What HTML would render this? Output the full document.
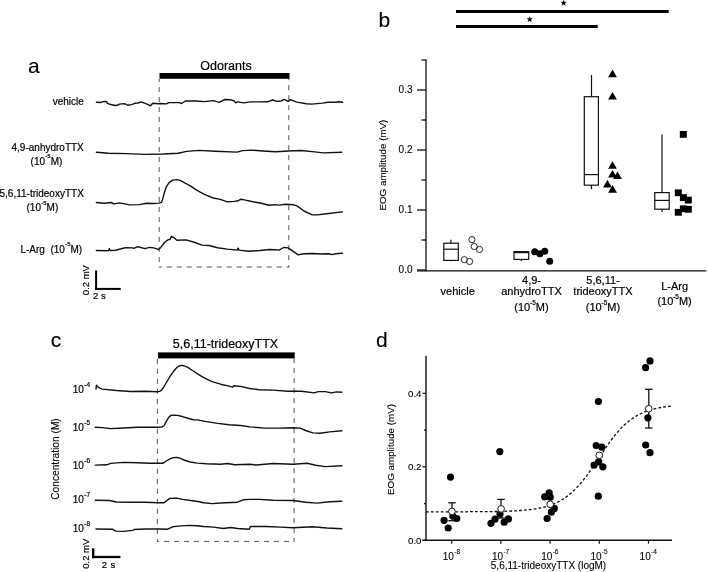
<!DOCTYPE html>
<html><head><meta charset="utf-8"><style>
html,body{margin:0;padding:0;background:#fff;}
svg{display:block;will-change:transform;}
text{font-family:"Liberation Sans", sans-serif;fill:#000;stroke:#000;stroke-width:0.2px;}
text.L{stroke-width:0.12px;}
text.d{stroke-width:0.1px;}
</style></head><body>
<svg width="708" height="572" viewBox="0 0 708 572">
<text x="28" y="73" font-size="21" text-anchor="start" class="L">a</text>
<text x="226" y="69.5" font-size="12.5" text-anchor="middle" >Odorants</text>
<rect x="159.5" y="73" width="130" height="5.8" fill="#000"/>
<line x1="159.2" y1="78.8" x2="159.2" y2="267.5" stroke="#555" stroke-width="1" stroke-dasharray="5,5" stroke-dashoffset="1.8"/>
<line x1="288.8" y1="78.8" x2="288.8" y2="267.5" stroke="#555" stroke-width="1" stroke-dasharray="5,5" stroke-dashoffset="3.6"/>
<line x1="159.2" y1="267" x2="288.8" y2="267" stroke="#555" stroke-width="1" stroke-dasharray="5,5" stroke-dashoffset="2.4"/>
<text x="83.8" y="104.5" font-size="10" text-anchor="end" >vehicle</text>
<text x="83.8" y="150.8" font-size="10" text-anchor="end" >4,9-anhydroTTX</text>
<text x="46.5" y="164.6" font-size="10" text-anchor="middle" >(10<tspan font-size="6" dy="-6.3" dx="0.3">-5</tspan><tspan dy="6.3">M)</tspan></text>
<text x="83.8" y="197.3" font-size="10" text-anchor="end" >5,6,11-trideoxyTTX</text>
<text x="42.4" y="211" font-size="10" text-anchor="middle" >(10<tspan font-size="6" dy="-6.3" dx="0.3">-5</tspan><tspan dy="6.3">M)</tspan></text>
<text x="82.2" y="252.7" font-size="10" text-anchor="end" >L-Arg&#160;&#160;(10<tspan font-size="6" dy="-6.3" dx="0.3">-5</tspan><tspan dy="6.3">M)</tspan></text>
<polyline points="96.4,102.3 100.5,102.5 104.2,101.4 106.5,101.5 107.4,103.2 109.7,104.3 115.2,105.5 117.5,105.3 119.3,104.1 124.4,103.6 127.6,105.2 131.7,104.6 135.4,103.2 138.0,103.0 140.9,101.8 144.6,103.2 148.2,104.6 150.5,105.8 152.8,103.2 158.6,103.7 160.0,103.5 166.4,103.9 168.9,102.6 179.0,102.6 181.6,103.5 185.4,101.0 195.6,101.0 204.5,101.6 213.4,100.6 219.1,102.3 224.8,99.5 229.9,99.7 234.3,101.0 235.6,102.9 237.5,101.9 243.9,102.9 250.0,101.9 260.0,101.9 267.4,101.8 272.8,100.0 276.8,101.4 280.9,101.0 284.2,99.4 288.3,101.4 290.3,99.6 297.0,102.1 306.4,103.7 311.7,104.1 322.5,103.1 327.9,102.3 335.9,102.3 338.6,101.7 342.6,102.3" fill="none" stroke="#111" stroke-width="1.4" stroke-linejoin="round" stroke-linecap="round"/>
<polyline points="96.4,152.3 108.4,153.3 126.7,153.6 145.1,154.4 163.4,154.0 178.1,153.2 186.7,151.4 199.6,150.4 215.0,151.3 237.0,152.1 242.5,150.6 251.7,150.1 262.7,151.0 275.6,151.8 288.4,151.0 301.3,150.5 312.3,151.6 323.3,152.9 341.7,152.3" fill="none" stroke="#111" stroke-width="1.4" stroke-linejoin="round" stroke-linecap="round"/>
<polyline points="96.4,202.5 104.1,203.2 111.2,202.5 114.0,203.9 119.7,202.9 129.5,204.9 139.4,204.6 146.5,203.2 153.6,203.5 159.2,203.1 161.4,202.4 162.8,198.8 164.2,193.2 166.3,186.8 169.1,182.6 172.7,180.1 176.9,179.6 179.7,180.1 184.7,182.9 190.3,185.8 196.0,189.7 200.2,192.1 205.0,194.7 213.2,198.0 220.3,199.4 227.4,201.8 234.4,201.4 238.0,200.8 240.8,199.2 244.3,199.9 252.8,201.8 261.3,203.2 269.0,205.3 275.4,204.6 279.0,205.1 285.8,204.2 293.7,204.8 297.1,205.9 303.9,211.0 311.8,214.7 317.5,214.9 326.5,213.8 342.3,211.9" fill="none" stroke="#111" stroke-width="1.4" stroke-linejoin="round" stroke-linecap="round"/>
<polyline points="96.4,250.5 108.4,250.8 109.4,248.6 110.0,250.5 115.4,250.2 125.3,247.7 132.4,247.9 133.8,248.4 138.0,246.7 145.1,248.6 149.3,247.4 153.6,247.9 158.5,249.5 160.6,247.7 164.9,242.0 168.4,239.6 169.8,239.6 171.5,236.4 173.3,237.3 176.9,240.2 186.0,239.9 193.5,242.0 202.0,245.1 209.0,245.5 217.5,247.7 227.4,249.1 237.3,250.1 238.1,248.1 239.0,250.1 248.6,251.2 259.9,250.5 269.7,249.5 274.5,249.8 279.0,250.1 283.6,247.5 288.1,247.9 292.6,250.9 298.2,254.9 303.9,253.7 312.9,253.5 320.8,254.0 328.8,253.7 332.1,254.6 335.5,253.7 342.3,253.2" fill="none" stroke="#111" stroke-width="1.4" stroke-linejoin="round" stroke-linecap="round"/>
<line x1="96.1" y1="270.5" x2="96.1" y2="289.9" stroke="#000" stroke-width="2" />
<line x1="95.1" y1="288.9" x2="120.8" y2="288.9" stroke="#000" stroke-width="2" />
<text transform="translate(89.2,280.1) rotate(-90)" font-size="9.5" text-anchor="middle">0.2 mV</text>
<text x="93" y="298.5" font-size="9.5" text-anchor="start" >2 s</text>
<text x="378.5" y="27" font-size="21" text-anchor="start" class="L">b</text>
<rect x="456" y="10" width="212.7" height="3" fill="#000"/>
<rect x="456" y="25" width="141.7" height="3" fill="#000"/>
<polygon points="563.60,0.40 564.33,2.09 566.17,2.27 564.79,3.49 565.19,5.28 563.60,4.35 562.01,5.28 562.41,3.49 561.03,2.27 562.87,2.09" fill="#000" stroke="#000" stroke-width="0.4" stroke-linejoin="round"/>
<polygon points="529.70,16.70 530.43,18.39 532.27,18.57 530.89,19.79 531.29,21.58 529.70,20.65 528.11,21.58 528.51,19.79 527.13,18.57 528.97,18.39" fill="#000" stroke="#000" stroke-width="0.4" stroke-linejoin="round"/>
<line x1="426" y1="59.6" x2="426" y2="271.2" stroke="#111" stroke-width="1.3" />
<line x1="417" y1="270.9" x2="706.4" y2="270.9" stroke="#111" stroke-width="1.4" />
<line x1="417" y1="90" x2="426" y2="90" stroke="#111" stroke-width="1.3" />
<text x="412.5" y="93.3" font-size="10" text-anchor="end" class="d">0.3</text>
<line x1="417" y1="150" x2="426" y2="150" stroke="#111" stroke-width="1.3" />
<text x="412.5" y="153.3" font-size="10" text-anchor="end" class="d">0.2</text>
<line x1="417" y1="210" x2="426" y2="210" stroke="#111" stroke-width="1.3" />
<text x="412.5" y="213.3" font-size="10" text-anchor="end" class="d">0.1</text>
<line x1="417" y1="270" x2="426" y2="270" stroke="#111" stroke-width="1.3" />
<text x="412.5" y="273.3" font-size="10" text-anchor="end" class="d">0.0</text>
<line x1="421.5" y1="60" x2="426" y2="60" stroke="#111" stroke-width="1.3" />
<line x1="421.5" y1="120" x2="426" y2="120" stroke="#111" stroke-width="1.3" />
<line x1="421.5" y1="180" x2="426" y2="180" stroke="#111" stroke-width="1.3" />
<line x1="421.5" y1="240" x2="426" y2="240" stroke="#111" stroke-width="1.3" />
<text transform="translate(385.6,165.1) rotate(-90)" font-size="9.8" text-anchor="middle" class="d">EOG amplitude (mV)</text>
<rect x="443.8" y="243.2" width="14.5" height="17.19999999999999" fill="none" stroke="#111" stroke-width="1.2"/>
<line x1="443.8" y1="249.2" x2="458.3" y2="249.2" stroke="#111" stroke-width="1.2" />
<line x1="450.9" y1="239.8" x2="450.9" y2="243.2" stroke="#111" stroke-width="1.2" />
<line x1="450.9" y1="260.4" x2="450.9" y2="261.2" stroke="#111" stroke-width="1.2" />
<rect x="514" y="251.6" width="14.700000000000045" height="7.799999999999983" fill="none" stroke="#111" stroke-width="1.2"/>
<line x1="514" y1="252.6" x2="528.7" y2="252.6" stroke="#111" stroke-width="1.2" />
<line x1="521.3" y1="251.6" x2="521.3" y2="251.6" stroke="#111" stroke-width="1.2" />
<line x1="521.3" y1="259.4" x2="521.3" y2="261.2" stroke="#111" stroke-width="1.2" />
<rect x="584.3" y="96.7" width="14.100000000000023" height="88.49999999999999" fill="none" stroke="#111" stroke-width="1.2"/>
<line x1="584.3" y1="174.6" x2="598.4" y2="174.6" stroke="#111" stroke-width="1.2" />
<line x1="591.5" y1="75" x2="591.5" y2="96.7" stroke="#111" stroke-width="1.2" />
<line x1="591.5" y1="185.2" x2="591.5" y2="189.2" stroke="#111" stroke-width="1.2" />
<rect x="654.8" y="192.6" width="14.400000000000091" height="16.599999999999994" fill="none" stroke="#111" stroke-width="1.2"/>
<line x1="654.8" y1="200.4" x2="669.2" y2="200.4" stroke="#111" stroke-width="1.2" />
<line x1="662" y1="134.5" x2="662" y2="192.6" stroke="#111" stroke-width="1.2" />
<line x1="662" y1="209.2" x2="662" y2="212" stroke="#111" stroke-width="1.2" />
<circle cx="471.9" cy="239.6" r="3.1" fill="none" stroke="#111" stroke-width="0.9"/>
<circle cx="474.2" cy="246.5" r="3.1" fill="none" stroke="#111" stroke-width="0.9"/>
<circle cx="479.5" cy="249.5" r="3.1" fill="none" stroke="#111" stroke-width="0.9"/>
<circle cx="464.3" cy="259.7" r="3.1" fill="none" stroke="#111" stroke-width="0.9"/>
<circle cx="469.6" cy="261.5" r="3.1" fill="none" stroke="#111" stroke-width="0.9"/>
<circle cx="534.7" cy="251.7" r="3.5" fill="#000"/>
<circle cx="539.9" cy="253.8" r="3.5" fill="#000"/>
<circle cx="544.7" cy="251.3" r="3.5" fill="#000"/>
<circle cx="549.7" cy="261.2" r="3.5" fill="#000"/>
<polygon points="612.5,69.6 616.9,77.19999999999999 608.1,77.19999999999999" fill="#000"/>
<polygon points="612.5,91.9 616.9,99.5 608.1,99.5" fill="#000"/>
<polygon points="612.5,161.2 616.9,168.79999999999998 608.1,168.79999999999998" fill="#000"/>
<polygon points="612.5,170 616.9,177.6 608.1,177.6" fill="#000"/>
<polygon points="617.5,171.4 621.9,179.0 613.1,179.0" fill="#000"/>
<polygon points="607.5,179.8 611.9,187.4 603.1,187.4" fill="#000"/>
<polygon points="612.6,185.1 617.0,192.7 608.2,192.7" fill="#000"/>
<rect x="679.8" y="131.0" width="7" height="6.8" fill="#000"/>
<rect x="674.8" y="189.4" width="7" height="6.8" fill="#000"/>
<rect x="679.9" y="194.2" width="7" height="6.8" fill="#000"/>
<rect x="684.8" y="196.7" width="7" height="6.8" fill="#000"/>
<rect x="679.9" y="205.4" width="7" height="6.8" fill="#000"/>
<rect x="684.8" y="205.9" width="7" height="6.8" fill="#000"/>
<rect x="674.8" y="208.9" width="7" height="6.8" fill="#000"/>
<text x="457.7" y="295.4" font-size="11" text-anchor="middle" >vehicle</text>
<text x="531.5" y="284" font-size="11" text-anchor="middle" >4,9-</text>
<text x="531.5" y="295.3" font-size="11" text-anchor="middle" >anhydroTTX</text>
<text x="531.5" y="311.4" font-size="11" text-anchor="middle" >(10<tspan font-size="6.5" dy="-6.2" dx="-0.2">-5</tspan><tspan dy="6.2">M)</tspan></text>
<text x="603" y="283.9" font-size="11" text-anchor="middle" >5,6,11-</text>
<text x="603" y="295.2" font-size="11" text-anchor="middle" >trideoxyTTX</text>
<text x="603" y="311.4" font-size="11" text-anchor="middle" >(10<tspan font-size="6.5" dy="-6.2" dx="-0.2">-5</tspan><tspan dy="6.2">M)</tspan></text>
<text x="674.6" y="289.9" font-size="11" text-anchor="middle" >L-Arg</text>
<text x="674.6" y="304.8" font-size="11" text-anchor="middle" >(10<tspan font-size="6.5" dy="-6.2" dx="-0.2">-5</tspan><tspan dy="6.2">M)</tspan></text>
<text x="50.8" y="347.3" font-size="21" text-anchor="start" class="L">c</text>
<text x="225.5" y="348.1" font-size="12.5" text-anchor="middle" >5,6,11-trideoxyTTX</text>
<rect x="158" y="352.4" width="136.7" height="6" fill="#000"/>
<line x1="157.4" y1="358.4" x2="157.4" y2="541.9" stroke="#555" stroke-width="1" stroke-dasharray="5,5" stroke-dashoffset="9.5"/>
<line x1="294.1" y1="358.4" x2="294.1" y2="541.9" stroke="#555" stroke-width="1" stroke-dasharray="5,5" stroke-dashoffset="0.3"/>
<line x1="157.4" y1="541.4" x2="294.1" y2="541.4" stroke="#555" stroke-width="1" stroke-dasharray="5,5" stroke-dashoffset="3.4"/>
<text x="72.8" y="392.9" font-size="10">10<tspan font-size="6.5" dy="-6.1" dx="0.4">-4</tspan></text>
<text x="72.8" y="431.1" font-size="10">10<tspan font-size="6.5" dy="-6.1" dx="0.4">-5</tspan></text>
<text x="72.8" y="468.6" font-size="10">10<tspan font-size="6.5" dy="-6.1" dx="0.4">-6</tspan></text>
<text x="72.8" y="503.4" font-size="10">10<tspan font-size="6.5" dy="-6.1" dx="0.4">-7</tspan></text>
<text x="72.8" y="531.8" font-size="10">10<tspan font-size="6.5" dy="-6.1" dx="0.4">-8</tspan></text>
<text transform="translate(59,459) rotate(-90)" font-size="10.2" text-anchor="middle" class="d">Concentration (M)</text>
<polyline points="96.0,389.1 96.4,385.3 98.8,387.7 102.4,389.1 116.5,390.5 130.6,391.5 144.7,391.2 157.1,391.7 159.5,391.4 161.3,390.3 163.5,387.5 166.1,383.0 168.5,379.0 170.8,375.2 173.2,371.8 175.5,369.0 177.5,367.0 179.3,365.9 181.3,365.4 183.2,365.6 185.5,366.3 187.9,367.4 192.4,370.5 198.0,374.1 203.7,377.6 212.1,381.6 220.6,384.2 229.1,386.1 232.6,387.2 233.6,385.8 240.4,386.4 250.0,388.5 259.1,389.8 273.2,390.1 287.4,391.2 301.5,391.2 314.2,392.9 318.4,391.6 325.5,391.6 331.2,392.9 336.8,391.9 341.8,392.3" fill="none" stroke="#111" stroke-width="1.4" stroke-linejoin="round" stroke-linecap="round"/>
<polyline points="95.3,427.3 102.4,427.6 110.8,428.6 123.6,428.0 137.7,427.3 157.5,427.2 161.7,427.1 163.8,426.0 166.3,421.4 168.8,417.2 170.9,415.4 174.1,415.1 177.6,415.4 183.2,416.8 188.9,418.5 193.5,419.7 197.4,419.9 205.0,421.4 217.8,423.4 229.1,424.8 240.4,425.5 250.0,426.9 264.8,428.1 280.3,428.1 293.0,427.7 300.1,428.1 305.7,430.5 312.8,432.9 319.9,433.3 329.7,431.9 341.8,430.8" fill="none" stroke="#111" stroke-width="1.4" stroke-linejoin="round" stroke-linecap="round"/>
<polyline points="95.3,465.1 106.6,464.8 110.8,463.4 123.6,462.4 137.7,462.7 150.0,463.3 162.8,463.3 166.3,461.0 170.5,458.6 173.5,457.7 176.2,457.4 178.5,457.7 180.4,458.3 185.4,460.5 190.3,462.0 197.4,463.1 206.5,463.8 220.6,464.2 227.7,463.5 234.7,464.7 250.0,464.2 256.3,465.0 273.2,463.5 293.0,464.2 307.1,463.3 315.6,465.2 325.5,466.6 341.8,465.7" fill="none" stroke="#111" stroke-width="1.4" stroke-linejoin="round" stroke-linecap="round"/>
<polyline points="95.3,500.3 109.4,500.5 116.5,502.0 130.6,502.2 144.7,502.2 158.5,502.7 164.1,502.7 169.8,498.4 176.8,498.1 182.5,499.4 192.4,500.8 199.4,501.7 203.7,502.7 212.1,503.6 224.9,502.7 237.6,502.2 243.2,499.8 250.0,499.4 259.1,499.4 273.2,500.3 293.0,500.5 305.7,502.2 317.0,503.1 329.7,501.7 341.8,501.2" fill="none" stroke="#111" stroke-width="1.4" stroke-linejoin="round" stroke-linecap="round"/>
<polyline points="96.0,529.0 112.3,529.2 115.8,531.1 123.6,531.4 132.7,530.4 134.2,529.5 144.7,529.0 158.9,529.0 167.7,529.2 172.6,526.8 178.2,526.1 189.5,525.4 196.6,525.7 203.7,526.5 213.6,527.1 223.4,528.5 230.5,527.5 237.6,528.5 249.2,529.2 250.4,526.5 266.2,526.5 280.3,527.1 293.0,527.8 312.8,526.8 326.9,528.0 341.8,528.7" fill="none" stroke="#111" stroke-width="1.4" stroke-linejoin="round" stroke-linecap="round"/>
<line x1="93.2" y1="548.3" x2="93.2" y2="558.2" stroke="#000" stroke-width="2.4" />
<line x1="92" y1="557" x2="120.4" y2="557" stroke="#000" stroke-width="2.3" />
<text transform="translate(89.2,553.7) rotate(-90)" font-size="9.5" text-anchor="middle">0.2 mV</text>
<text x="101.7" y="568.1" font-size="9.5" text-anchor="start" word-spacing="1">2 s</text>
<text x="376" y="347.3" font-size="21" text-anchor="start" class="L">d</text>
<line x1="426" y1="355.8" x2="426" y2="541" stroke="#111" stroke-width="1.4" />
<line x1="422.5" y1="540.3" x2="672" y2="540.3" stroke="#111" stroke-width="1.4" />
<line x1="422.5" y1="393.29999999999995" x2="426" y2="393.29999999999995" stroke="#111" stroke-width="1.2" />
<text x="421.5" y="396.59999999999997" font-size="9.7" text-anchor="end" class="d">0.4</text>
<line x1="422.5" y1="466.79999999999995" x2="426" y2="466.79999999999995" stroke="#111" stroke-width="1.2" />
<text x="421.5" y="470.09999999999997" font-size="9.7" text-anchor="end" class="d">0.2</text>
<line x1="422.5" y1="540.3" x2="426" y2="540.3" stroke="#111" stroke-width="1.2" />
<text x="421.5" y="543.5999999999999" font-size="9.7" text-anchor="end" class="d">0.0</text>
<line x1="424" y1="503.54999999999995" x2="426" y2="503.54999999999995" stroke="#111" stroke-width="1.2" />
<line x1="424" y1="430.04999999999995" x2="426" y2="430.04999999999995" stroke="#111" stroke-width="1.2" />
<line x1="451.7" y1="540.3" x2="451.7" y2="543.7" stroke="#111" stroke-width="1.2" />
<text x="442.8" y="559.8" font-size="10" class="d">10<tspan font-size="6.5" dy="-5.6" dx="0.3">-8</tspan></text>
<line x1="500.9" y1="540.3" x2="500.9" y2="543.7" stroke="#111" stroke-width="1.2" />
<text x="492.0" y="559.8" font-size="10" class="d">10<tspan font-size="6.5" dy="-5.6" dx="0.3">-7</tspan></text>
<line x1="550.1" y1="540.3" x2="550.1" y2="543.7" stroke="#111" stroke-width="1.2" />
<text x="541.2" y="559.8" font-size="10" class="d">10<tspan font-size="6.5" dy="-5.6" dx="0.3">-6</tspan></text>
<line x1="599.3" y1="540.3" x2="599.3" y2="543.7" stroke="#111" stroke-width="1.2" />
<text x="590.4" y="559.8" font-size="10" class="d">10<tspan font-size="6.5" dy="-5.6" dx="0.3">-5</tspan></text>
<line x1="648.5" y1="540.3" x2="648.5" y2="543.7" stroke="#111" stroke-width="1.2" />
<text x="639.6" y="559.8" font-size="10" class="d">10<tspan font-size="6.5" dy="-5.6" dx="0.3">-4</tspan></text>
<text x="548.5" y="569.2" font-size="10" text-anchor="middle" class="d">5,6,11-trideoxyTTX (logM)</text>
<text transform="translate(394.2,449.5) rotate(-90)" font-size="9.8" text-anchor="middle" class="d">EOG amplitude (mV)</text>
<polyline points="426.0,511.8 427.0,511.8 428.0,511.8 429.0,511.8 430.0,511.8 431.0,511.8 432.0,511.8 433.0,511.8 434.0,511.8 435.0,511.8 436.0,511.8 437.0,511.8 438.0,511.8 439.0,511.8 440.0,511.8 441.0,511.8 442.0,511.8 443.0,511.8 444.0,511.8 445.0,511.8 446.0,511.8 447.0,511.8 448.0,511.8 449.0,511.8 450.0,511.8 451.0,511.8 452.0,511.8 453.0,511.8 454.0,511.8 455.0,511.8 456.0,511.8 457.0,511.8 458.0,511.8 459.0,511.8 460.0,511.8 461.0,511.8 462.0,511.8 463.0,511.8 464.0,511.8 465.0,511.8 466.0,511.8 467.0,511.8 468.0,511.7 469.0,511.7 470.0,511.7 471.0,511.7 472.0,511.7 473.0,511.7 474.0,511.7 475.0,511.7 476.0,511.7 477.0,511.7 478.0,511.7 479.0,511.7 480.0,511.7 481.0,511.7 482.0,511.7 483.0,511.7 484.0,511.6 485.0,511.6 486.0,511.6 487.0,511.6 488.0,511.6 489.0,511.6 490.0,511.6 491.0,511.6 492.0,511.6 493.0,511.5 494.0,511.5 495.0,511.5 496.0,511.5 497.0,511.5 498.0,511.4 499.0,511.4 500.0,511.4 501.0,511.4 502.0,511.4 503.0,511.3 504.0,511.3 505.0,511.3 506.0,511.2 507.0,511.2 508.0,511.2 509.0,511.1 510.0,511.1 511.0,511.0 512.0,511.0 513.0,511.0 514.0,510.9 515.0,510.9 516.0,510.8 517.0,510.7 518.0,510.7 519.0,510.6 520.0,510.5 521.0,510.5 522.0,510.4 523.0,510.3 524.0,510.2 525.0,510.1 526.0,510.0 527.0,509.9 528.0,509.8 529.0,509.7 530.0,509.6 531.0,509.5 532.0,509.4 533.0,509.2 534.0,509.1 535.0,508.9 536.0,508.8 537.0,508.6 538.0,508.4 539.0,508.2 540.0,508.0 541.0,507.8 542.0,507.6 543.0,507.3 544.0,507.1 545.0,506.8 546.0,506.6 547.0,506.3 548.0,506.0 549.0,505.6 550.0,505.3 551.0,505.0 552.0,504.6 553.0,504.2 554.0,503.8 555.0,503.4 556.0,502.9 557.0,502.4 558.0,502.0 559.0,501.4 560.0,500.9 561.0,500.3 562.0,499.7 563.0,499.1 564.0,498.5 565.0,497.8 566.0,497.1 567.0,496.4 568.0,495.6 569.0,494.8 570.0,494.0 571.0,493.2 572.0,492.3 573.0,491.4 574.0,490.4 575.0,489.5 576.0,488.5 577.0,487.4 578.0,486.3 579.0,485.2 580.0,484.1 581.0,482.9 582.0,481.7 583.0,480.5 584.0,479.2 585.0,477.9 586.0,476.6 587.0,475.3 588.0,473.9 589.0,472.5 590.0,471.1 591.0,469.7 592.0,468.2 593.0,466.8 594.0,465.3 595.0,463.8 596.0,462.3 597.0,460.8 598.0,459.3 599.0,457.8 600.0,456.3 601.0,454.8 602.0,453.3 603.0,451.8 604.0,450.3 605.0,448.8 606.0,447.4 607.0,445.9 608.0,444.5 609.0,443.1 610.0,441.7 611.0,440.4 612.0,439.0 613.0,437.7 614.0,436.4 615.0,435.2 616.0,434.0 617.0,432.8 618.0,431.6 619.0,430.5 620.0,429.4 621.0,428.3 622.0,427.3 623.0,426.3 624.0,425.3 625.0,424.4 626.0,423.5 627.0,422.6 628.0,421.8 629.0,421.0 630.0,420.2 631.0,419.5 632.0,418.8 633.0,418.1 634.0,417.4 635.0,416.8 636.0,416.2 637.0,415.6 638.0,415.0 639.0,414.5 640.0,414.0 641.0,413.5 642.0,413.1 643.0,412.6 644.0,412.2 645.0,411.8 646.0,411.4 647.0,411.1 648.0,410.7 649.0,410.4 650.0,410.1 651.0,409.8 652.0,409.5 653.0,409.2 654.0,409.0 655.0,408.7 656.0,408.5 657.0,408.3 658.0,408.1 659.0,407.9 660.0,407.7 661.0,407.5 662.0,407.3 663.0,407.2 664.0,407.0 665.0,406.9 666.0,406.7 667.0,406.6 668.0,406.5 669.0,406.4 670.0,406.3 671.0,406.2 672.0,406.1" fill="none" stroke="#111" stroke-width="1.3" stroke-dasharray="2.8,2.1"/>
<line x1="452" y1="502.8" x2="452" y2="520.7" stroke="#111" stroke-width="1.3" />
<line x1="448.25" y1="502.8" x2="455.75" y2="502.8" stroke="#111" stroke-width="1.3" />
<line x1="448.25" y1="520.7" x2="455.75" y2="520.7" stroke="#111" stroke-width="1.3" />
<line x1="501" y1="499.4" x2="501" y2="518" stroke="#111" stroke-width="1.3" />
<line x1="497.25" y1="499.4" x2="504.75" y2="499.4" stroke="#111" stroke-width="1.3" />
<line x1="497.25" y1="518" x2="504.75" y2="518" stroke="#111" stroke-width="1.3" />
<line x1="648.8" y1="389.3" x2="648.8" y2="428" stroke="#111" stroke-width="1.3" />
<line x1="645.05" y1="389.3" x2="652.55" y2="389.3" stroke="#111" stroke-width="1.3" />
<line x1="645.05" y1="428" x2="652.55" y2="428" stroke="#111" stroke-width="1.3" />
<circle cx="450.5" cy="477.1" r="3.6" fill="#000"/>
<circle cx="444.1" cy="520.3" r="3.6" fill="#000"/>
<circle cx="456.8" cy="518.5" r="3.6" fill="#000"/>
<circle cx="448.2" cy="528" r="3.6" fill="#000"/>
<circle cx="452.8" cy="516" r="3.6" fill="#000"/>
<circle cx="499.8" cy="451.6" r="3.6" fill="#000"/>
<circle cx="500.0" cy="514" r="3.6" fill="#000"/>
<circle cx="495" cy="519.2" r="3.6" fill="#000"/>
<circle cx="491" cy="523.3" r="3.6" fill="#000"/>
<circle cx="504.2" cy="522.2" r="3.6" fill="#000"/>
<circle cx="508.4" cy="518.9" r="3.6" fill="#000"/>
<circle cx="549.2" cy="492.8" r="3.6" fill="#000"/>
<circle cx="544.7" cy="496.8" r="3.6" fill="#000"/>
<circle cx="550.2" cy="497.2" r="3.6" fill="#000"/>
<circle cx="554.3" cy="508.4" r="3.6" fill="#000"/>
<circle cx="551.4" cy="512.2" r="3.6" fill="#000"/>
<circle cx="547.1" cy="518.5" r="3.6" fill="#000"/>
<circle cx="598.4" cy="401.5" r="3.6" fill="#000"/>
<circle cx="596.2" cy="445.5" r="3.6" fill="#000"/>
<circle cx="601.8" cy="447.2" r="3.6" fill="#000"/>
<circle cx="598.6" cy="461.9" r="3.6" fill="#000"/>
<circle cx="594.1" cy="465.1" r="3.6" fill="#000"/>
<circle cx="602.8" cy="466.8" r="3.6" fill="#000"/>
<circle cx="598.3" cy="496.2" r="3.6" fill="#000"/>
<circle cx="650" cy="360.9" r="3.6" fill="#000"/>
<circle cx="645.6" cy="367.6" r="3.6" fill="#000"/>
<circle cx="647.9" cy="417.8" r="3.6" fill="#000"/>
<circle cx="645.7" cy="445" r="3.6" fill="#000"/>
<circle cx="650" cy="452.7" r="3.6" fill="#000"/>
<circle cx="451.9" cy="511.4" r="3.35" fill="#fff" stroke="#111" stroke-width="0.95"/>
<circle cx="501.1" cy="508.9" r="3.35" fill="#fff" stroke="#111" stroke-width="0.95"/>
<circle cx="550.2" cy="504.3" r="3.35" fill="#fff" stroke="#111" stroke-width="0.95"/>
<circle cx="599.3" cy="455.3" r="3.35" fill="#fff" stroke="#111" stroke-width="0.95"/>
<circle cx="648.7" cy="408.7" r="3.35" fill="#fff" stroke="#111" stroke-width="0.95"/>
</svg>
</body></html>
